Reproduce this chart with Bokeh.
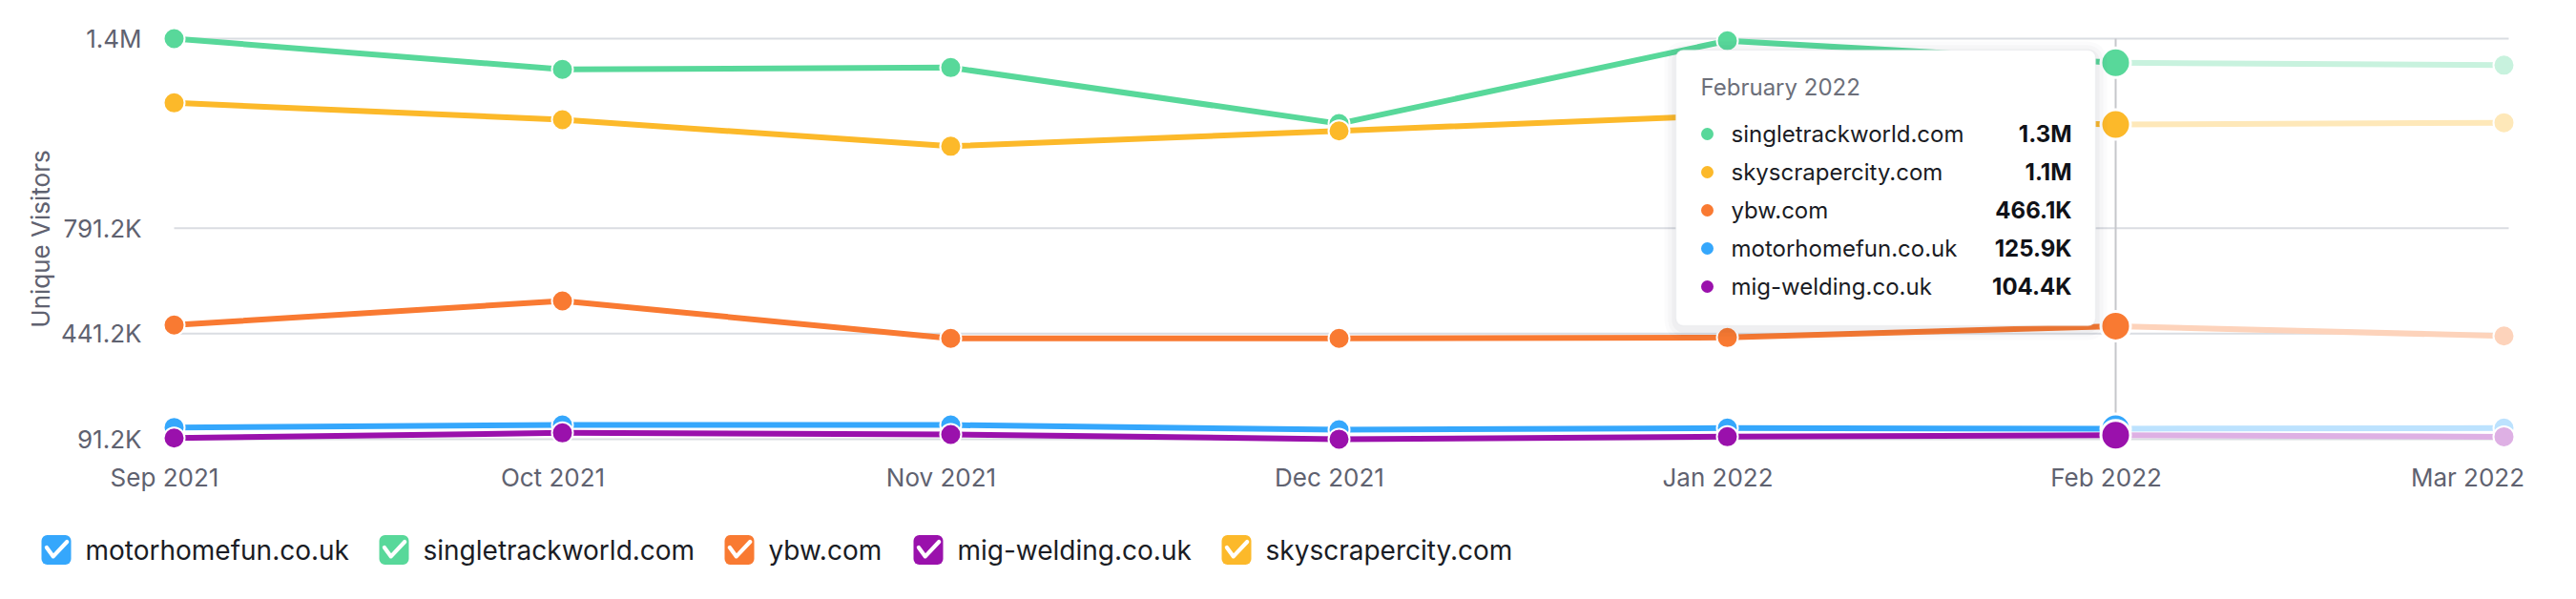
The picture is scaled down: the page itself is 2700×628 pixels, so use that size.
from bokeh.plotting import figure
from bokeh.models import Range1d, FixedTicker, BoxAnnotation
from bokeh.core.properties import value
from bokeh.embed import file_html
from bokeh.resources import INLINE

# ---------------- data ----------------
months = ["Sep 2021", "Oct 2021", "Nov 2021", "Dec 2021", "Jan 2022", "Feb 2022", "Mar 2022"]
series_names = ["motorhomefun.co.uk", "singletrackworld.com", "ybw.com", "mig-welding.co.uk", "skyscrapercity.com"]
motorhomefun = [130000, 138000, 138000, 122500, 128000, 125900, 128000]
singletrackworld = [1420000, 1318000, 1324000, 1138000, 1413000, 1340000, 1332000]
ybw = [469700, 549700, 425400, 425400, 428500, 466100, 433600]
migwelding = [95000, 112000, 106700, 91200, 99400, 104400, 99000]
skyscrapercity = [1207000, 1151000, 1063000, 1114000, 1165000, 1135000, 1141000]
y_ticks = [91200, 441200, 791200, 1420000]
y_tick_labels = ["91.2K", "441.2K", "791.2K", "1.4M"]
tooltip_title = "February 2022"
hover_index = 5  # Feb 2022 is hovered; later points are faded

series_values = [motorhomefun, singletrackworld, ybw, migwelding, skyscrapercity]
colors = ["#35a7fc", "#58d89a", "#f97a32", "#9a11ac", "#fcb92a"]

FONT = "Inter"
TICK_COLOR = "#5f6270"


def blend(hexcol, a=0.33):
    r, g, b = (int(hexcol[i:i + 2], 16) for i in (1, 3, 5))
    f = lambda c: int(round(c * a + 255 * (1 - a)))
    return "#%02x%02x%02x" % (f(r), f(g), f(b))


def fmt(v):
    return f"{v / 1e6:.1f}M" if v >= 1e6 else f"{v / 1e3:.1f}K"


# ---------------- layout ----------------
W = 2700
H1, H2 = 528, 100
BL, BR, BT, BB = 160, 52, 26, 54
FW, FH = W - BL - BR, H1 - BT - BB
PAD_L, PAD_R = 22, 24
n = len(months)
ppu = (FW - PAD_L - PAD_R) / (n - 1)
x0, x1 = -PAD_L / ppu, (n - 1) + PAD_R / ppu
y0, y1 = 46600, 1464300


def fy(sy):  # screen px -> data y
    return y1 - (sy - BT) / FH * (y1 - y0)


xs = list(range(n))

p = figure(width=W, height=H1, x_range=Range1d(x0, x1), y_range=Range1d(y0, y1),
           output_backend="svg", toolbar_location=None, title=None,
           min_border_left=BL, min_border_right=BR, min_border_top=BT, min_border_bottom=BB)
p.outline_line_color = None
p.xgrid.visible = False
p.ygrid.visible = False
p.background_fill_color = "white"
p.border_fill_color = "white"

for ax in (p.xaxis, p.yaxis):
    ax.axis_line_color = None
    ax.major_tick_line_color = None
    ax.minor_tick_line_color = None
    ax.major_tick_out = 0
    ax.major_tick_in = 0
    ax.major_label_text_font = FONT
    ax.major_label_text_font_size = "26px"
    ax.major_label_text_color = TICK_COLOR

p.yaxis.ticker = FixedTicker(ticks=y_ticks)
p.yaxis.major_label_overrides = dict(zip(y_ticks, y_tick_labels))
p.yaxis.major_label_standoff = 12
p.yaxis.axis_label = "Unique Visitors"
p.yaxis.axis_label_text_font = FONT
p.yaxis.axis_label_text_font_size = "26px"
p.yaxis.axis_label_text_font_style = "normal"
p.yaxis.axis_label_text_color = TICK_COLOR
p.yaxis.axis_label_standoff = 3

shift_px = [-10, -10, -10, -10, -10, -10, -38]
xt = [i + shift_px[i] / ppu for i in range(n)]
p.xaxis.ticker = FixedTicker(ticks=xt)
p.xaxis.major_label_overrides = {t: m for t, m in zip(xt, months)}
p.xaxis.major_label_standoff = 10

# grid lines (from first month to just past last)
p.segment(x0=[0] * len(y_ticks), y0=y_ticks, x1=[(n - 1) + 5 / ppu] * len(y_ticks), y1=y_ticks,
          line_color="#dadde2", line_width=2, level="underlay")
# crosshair
p.segment(x0=[hover_index], y0=[y_ticks[-1]], x1=[hover_index], y1=[y_ticks[0]],
          line_color="#c6c7cb", line_width=2, level="underlay")

h = hover_index
for name, vals, col in zip(series_names, series_values, colors):
    light = blend(col)
    p.line(xs[:h + 1], vals[:h + 1], line_color=col, line_width=6, line_join="round")
    p.line(xs[h:], vals[h:], line_color=light, line_width=6, line_join="round")
    p.scatter(xs[:h], vals[:h], size=22, fill_color=col, line_color="white", line_width=2)
    p.scatter(xs[h + 1:], vals[h + 1:], size=22, fill_color=light, line_color="white", line_width=2)
    p.scatter([xs[h]], [vals[h]], size=31, fill_color=col, line_color="white", line_width=3)

# ---------------- tooltip ----------------
tr = h - 21 / ppu
tl = h - 461 / ppu
tt, tb = 52, 341  # screen px
for k, a in ((12, 0.016), (8, 0.022), (4, 0.03)):
    p.add_layout(BoxAnnotation(left=tl - k / ppu, right=tr + k / ppu, top=fy(tt - k + 3), bottom=fy(tb + k + 3),
                               fill_color="#1a1c30", fill_alpha=a, line_color=None, border_radius=8 + k))
p.add_layout(BoxAnnotation(left=tl, right=tr, top=fy(tt), bottom=fy(tb), fill_color="white", fill_alpha=1.0,
                           line_color="#dfe0e5", line_width=1.5, border_radius=8))

order = sorted(range(len(series_names)), key=lambda i: -series_values[i][h])
row_sy = [tt + 88 + 40 * r for r in range(len(order))]
t = p.text(x=[h - 435 / ppu], y=[fy(tt + 39)], text=[tooltip_title], text_font=value(FONT),
           text_font_size="24px", text_color="#6c6f7a", text_baseline="middle", text_align="left")
t.level = "overlay"
d = p.scatter(x=[h - 428 / ppu] * len(order), y=[fy(sy) for sy in row_sy], size=13,
              fill_color=[colors[i] for i in order], line_color=None)
d.level = "overlay"
t = p.text(x=[h - 403 / ppu] * len(order), y=[fy(sy) for sy in row_sy], text=[series_names[i] for i in order],
           text_font=value(FONT), text_font_size="24px", text_color="#1a1c24", text_baseline="middle",
           text_align="left")
t.level = "overlay"
t = p.text(x=[h - 46 / ppu] * len(order), y=[fy(sy) for sy in row_sy], text=[fmt(series_values[i][h]) for i in order],
           text_font=value(FONT), text_font_size="24px", text_font_style="bold", text_color="#101218",
           text_baseline="middle", text_align="right")
t.level = "overlay"

# ---------------- legend (separate root, pixel coordinates) ----------------
q = figure(width=W, height=H2, x_range=Range1d(0, W), y_range=Range1d(0, H2),
           output_backend="svg", toolbar_location=None, title=None,
           x_axis_type=None, y_axis_type=None, min_border=0)
q.outline_line_color = None
q.xgrid.visible = False
q.ygrid.visible = False
box_left = [43, 397, 759, 957, 1280]  # px
bs = 31
cy = H2 - (576 - H1)
for bl, col in zip(box_left, colors):
    q.add_layout(BoxAnnotation(left=bl, right=bl + bs, bottom=cy - bs / 2, top=cy + bs / 2,
                               fill_color=col, fill_alpha=1.0, line_color=None, border_radius=6))
cxs = [bl + bs / 2 for bl in box_left]
chk = q.multi_line(xs=[[c - 10.1, c - 3.2, c + 11.2] for c in cxs], ys=[[cy + 2.5, cy - 6.9, cy + 8.5]] * len(cxs),
                   line_color="white", line_width=4.2, line_cap="round", line_join="round")
chk.level = "overlay"
q.text(x=[bl + 46 for bl in box_left], y=[cy] * len(box_left), text=series_names, text_font=value(FONT),
       text_font_size="28px", text_color="#1a1c24", text_baseline="middle", text_align="left")

open("out.html", "w").write(file_html([p, q], INLINE))
